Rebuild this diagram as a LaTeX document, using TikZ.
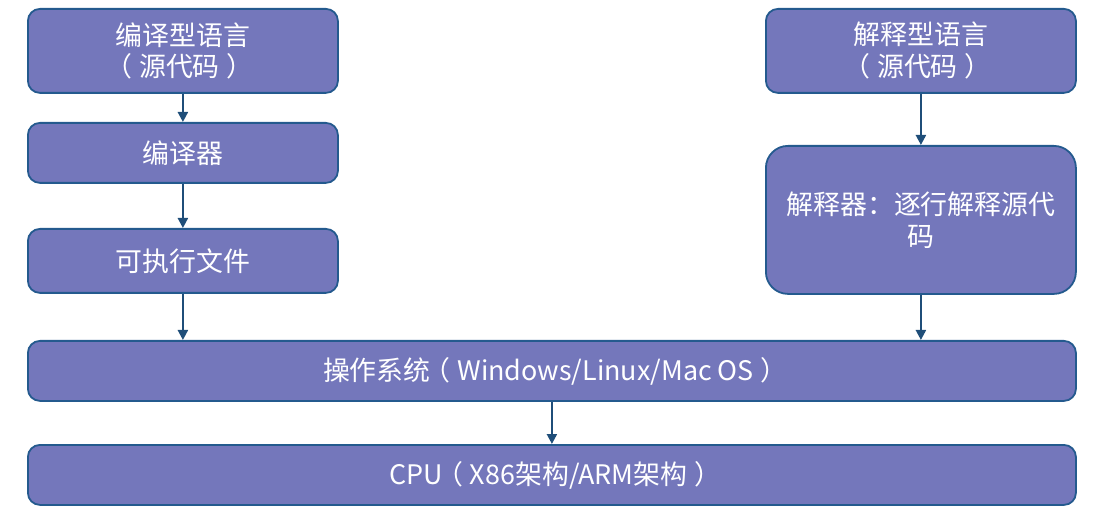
\documentclass[tikz,border=0pt]{standalone}
\usepackage{fontspec}
\newfontfamily\cjk{Noto Sans CJK SC}
\usetikzlibrary{arrows.meta}
\definecolor{boxfill}{HTML}{7477BB}
\definecolor{boxline}{HTML}{245A8E}
\definecolor{arrowc}{HTML}{1F4E79}
\newcommand{\lp}{\hspace{-0.25em}（\hspace{0.25em}}
\newcommand{\rp}{\hspace{0.25em}）\hspace{-0.25em}}
\begin{document}
\begin{tikzpicture}[x=1bp,y=-1bp,
  box/.style={draw=boxline, line width=1.8bp, fill=boxfill, rounded corners=12bp,
    text=white, font=\cjk\fontsize{27}{32}\selectfont, align=center,
    anchor=north west, inner sep=0pt},
  conn/.style={draw=arrowc, line width=2.2bp, -{Triangle[length=10bp,width=10bp]}}]
\useasboundingbox (0,0) rectangle (1109,510);
\node[box, minimum width=310bp, minimum height=84bp] (a) at (27,8) {编译型语言\\\lp 源代码\rp};
\node[box, minimum width=310bp, minimum height=60bp] (b) at (27,122) {编译器};
\node[box, minimum width=310bp, minimum height=64bp] (c) at (27,228) {可执行文件};
\node[box, minimum width=310bp, minimum height=84bp] (d) at (765,8) {解释型语言\\\lp 源代码\rp};
\node[box, minimum width=310bp, minimum height=148bp, rounded corners=22bp] (e) at (765,145) {解释器：逐行解释源代\\码};
\node[box, minimum width=1048bp, minimum height=60bp] (f) at (27,340) {操作系统\lp Windows/Linux/Mac OS\rp};
\node[box, minimum width=1048bp, minimum height=60bp] (g) at (27,444) {CPU\lp X86架构/ARM架构\rp};
\draw[conn] (a.south) -- (b.north);
\draw[conn] (b.south) -- (c.north);
\draw[conn] (c.south) -- (c.south |- f.north);
\draw[conn] (d.south) -- (e.north);
\draw[conn] (e.south) -- (e.south |- f.north);
\draw[conn] (f.south) -- (g.north);
\end{tikzpicture}
\end{document}
